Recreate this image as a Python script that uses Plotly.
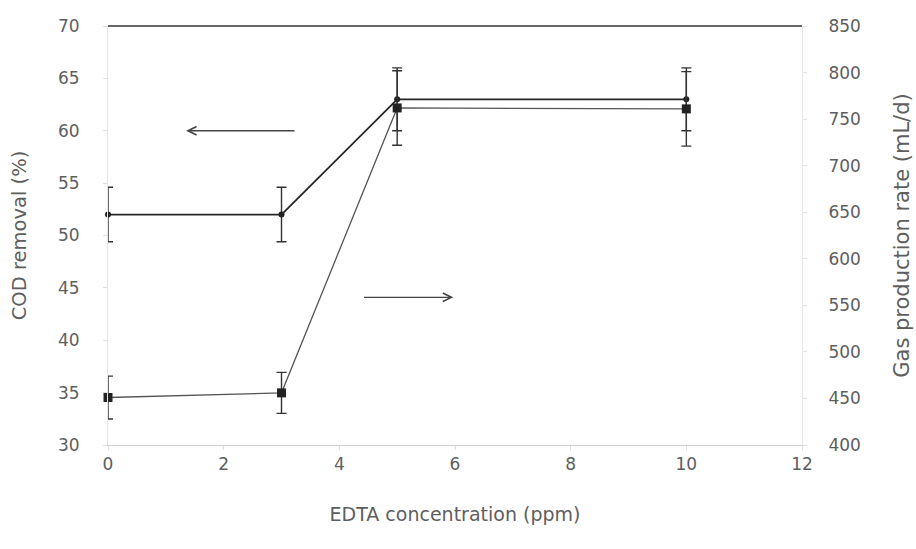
import plotly.graph_objects as go

# EDTA dose (ppm)
edta = [0, 3, 5, 10]

# COD removal (%) with standard deviation
cod_removal = [52, 52, 63, 63]
cod_err = [2.6, 2.6, 3.0, 3.0]

# Gas production rate (mL/d) with standard deviation
gas_rate = [451, 456, 762, 761]
gas_err = [23, 22, 40, 40]

left_ticks = [30, 35, 40, 45, 50, 55, 60, 65, 70]
right_ticks = [400, 450, 500, 550, 600, 650, 700, 750, 800, 850]
x_ticks = [0, 2, 4, 6, 8, 10, 12]

font_family = "DejaVu Sans, Liberation Sans, sans-serif"
text_color = "#5e5e5e"
tick_size = 17

fig = go.Figure()

fig.add_trace(go.Scatter(
    x=edta, y=cod_removal, name="COD removal",
    mode="lines+markers", cliponaxis=False,
    line=dict(color="#262626", width=1.8),
    marker=dict(symbol="circle", size=6, color="#222222"),
    error_y=dict(type="data", array=cod_err, color="#333333", thickness=1.4, width=5),
    yaxis="y",
))

fig.add_trace(go.Scatter(
    x=edta, y=gas_rate, name="Gas production rate",
    mode="lines+markers", cliponaxis=False,
    line=dict(color="#555555", width=1.3),
    marker=dict(symbol="square", size=9, color="#222222"),
    error_y=dict(type="data", array=gas_err, color="#333333", thickness=1.4, width=5),
    yaxis="y2",
))

# Direction arrows pointing to the axis each series belongs to
arrow_style = dict(showarrow=True, arrowhead=5, arrowsize=1.3, arrowwidth=1.3,
                   arrowcolor="#444444", text="", axref="x", ayref="y")
fig.add_annotation(x=1.35, y=60, ax=3.25, ay=60, xref="x", yref="y", **arrow_style)
fig.add_annotation(x=5.97, y=44.1, ax=4.4, ay=44.1, xref="x", yref="y", **arrow_style)

# dark frame line along the top of the plot area
fig.add_shape(type="line", xref="paper", yref="paper", x0=0, x1=1, y0=1, y1=1,
              line=dict(color="#333333", width=1.3))

fig.update_layout(
    width=916, height=549,
    margin=dict(l=108, r=114, t=26, b=104),
    paper_bgcolor="white", plot_bgcolor="white",
    showlegend=False,
    font=dict(family=font_family, color=text_color, size=tick_size),
    xaxis=dict(
        range=[0, 12], tickvals=x_ticks, showgrid=False, zeroline=False,
        showline=True, linecolor="#d0d0d0", linewidth=1,
        ticks="outside", ticklen=4, tickcolor="#e0e0e0",
        ticklabelstandoff=0, automargin=False,
        tickfont=dict(size=tick_size, color=text_color),
        title=dict(text="EDTA concentration (ppm)", font=dict(size=19, color=text_color), standoff=34),
    ),
    yaxis=dict(
        range=[30, 70], tickvals=left_ticks, showgrid=False, zeroline=False,
        showline=True, linecolor="#e6e6e6", linewidth=1,
        ticks="outside", ticklen=4, tickcolor="#e0e0e0",
        ticklabelstandoff=20, automargin=False,
        tickfont=dict(size=tick_size, color=text_color),
        title=dict(text="COD removal (%)", font=dict(size=19.5, color=text_color), standoff=26),
    ),
    yaxis2=dict(
        range=[400, 850], tickvals=right_ticks, overlaying="y", side="right",
        showgrid=False, zeroline=False,
        showline=True, linecolor="#e6e6e6", linewidth=1,
        ticks="outside", ticklen=4, tickcolor="#e0e0e0",
        ticklabelstandoff=18, automargin=False,
        tickfont=dict(size=tick_size, color=text_color),
        title=dict(text="Gas production rate (mL/d)", font=dict(size=21, color=text_color), standoff=34),
    ),
)

fig.write_html("out.html")
